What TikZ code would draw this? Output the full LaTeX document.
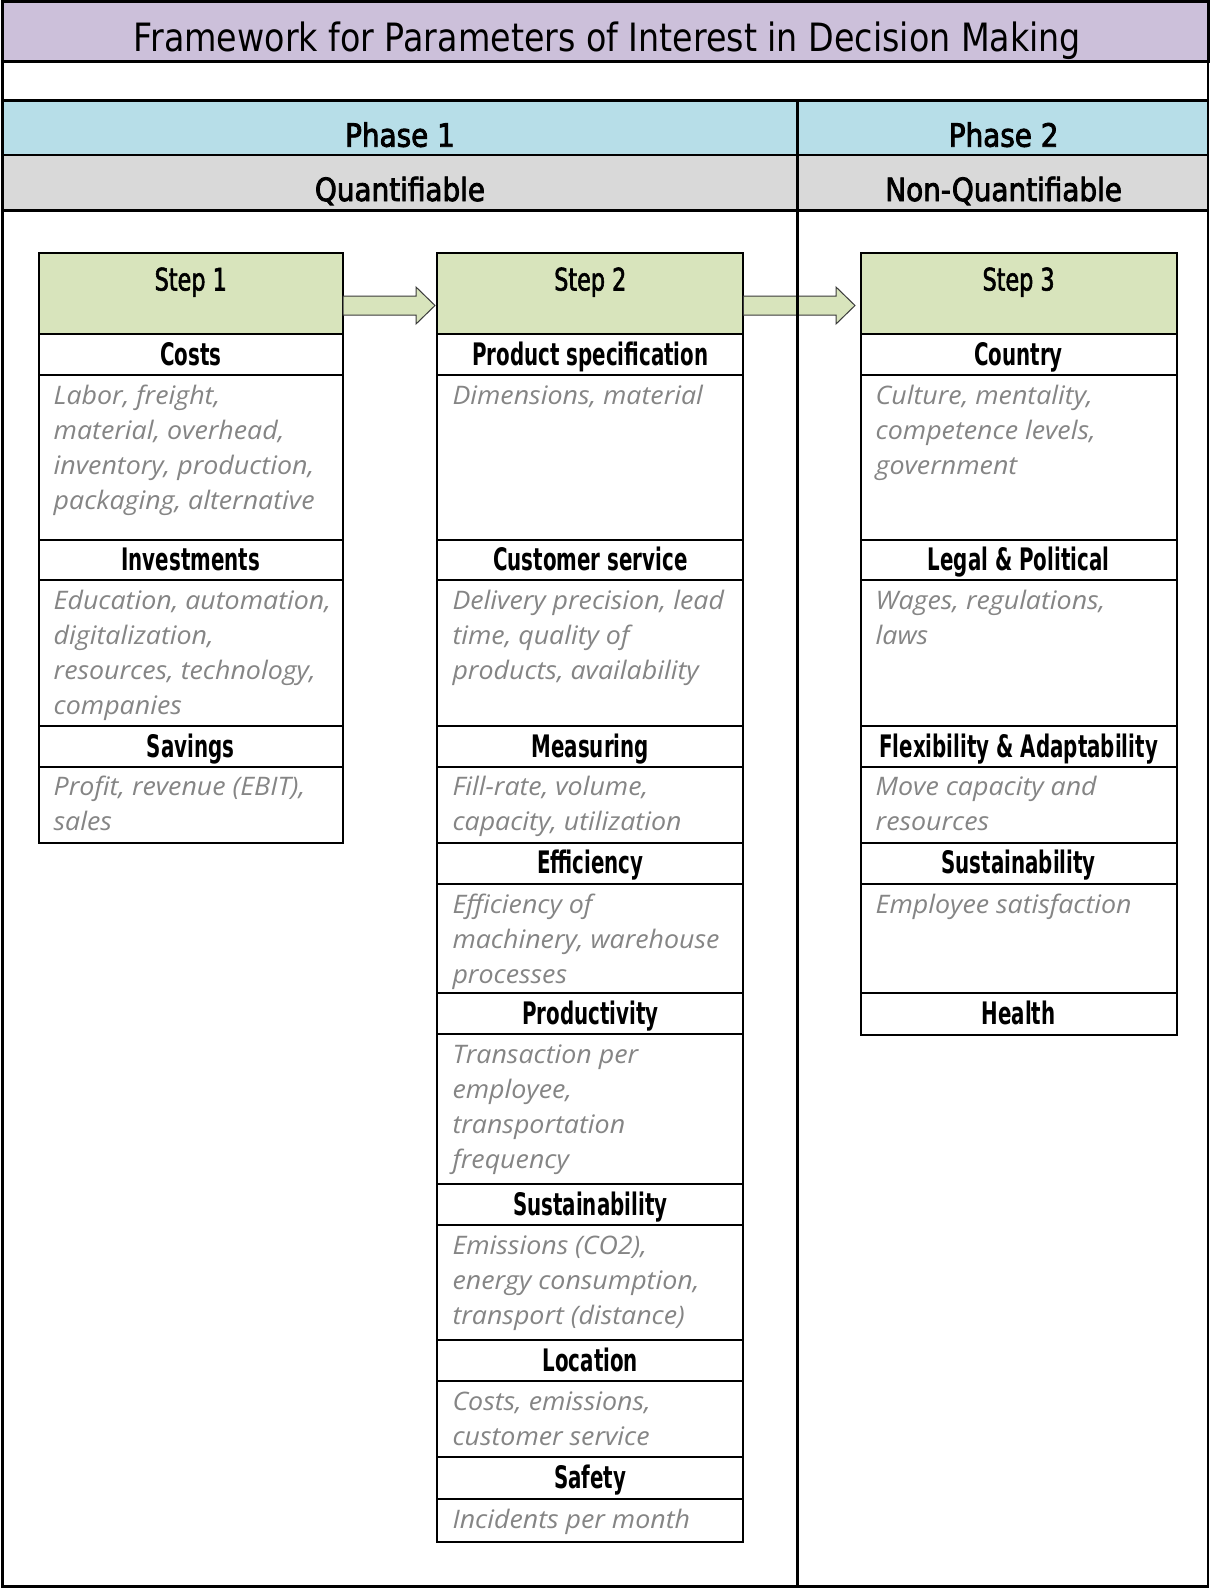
\documentclass[tikz,border=0pt]{standalone}
\usepackage{fontspec}
\usetikzlibrary{calc}

% Fonts: condensed sans for titles and headings, italic humanist sans for descriptions
\newfontfamily\titlefont[FakeStretch=0.854]{DejaVu Sans}
\newfontfamily\phasefont[FakeStretch=0.87,FakeBold=2.6]{DejaVu Sans}
\newfontfamily\stepfont[FakeStretch=0.72,FakeBold=1.8]{DejaVu Sans}
\newfontfamily\headfont[FakeStretch=0.64]{DejaVu Sans}
\newfontfamily\descfont[FakeStretch=1.05]{Open Sans}

\definecolor{titlepurple}{HTML}{CCC0DA}
\definecolor{phaseblue}{HTML}{B7DEE8}
\definecolor{quantgray}{HTML}{D9D9D9}
\definecolor{stepgreen}{HTML}{D8E4BC}
\definecolor{descgray}{HTML}{858585}
\definecolor{arrowline}{HTML}{3A3A3A}

\tikzset{
  framebox/.style={draw=black,line width=2.5pt,inner sep=0pt,outer sep=0pt},
  cellbox/.style={draw=black,line width=2pt,fill=white,inner sep=0pt,outer sep=0pt},
  titletext/.style={inner sep=0pt,font=\titlefont\fontsize{39}{39}\selectfont},
  phasetext/.style={inner sep=0pt,font=\phasefont\fontsize{32}{32}\selectfont},
  steptext/.style={inner sep=0pt,font=\stepfont\fontsize{31}{31}\selectfont},
  headtext/.style={inner sep=0pt,font=\headfont\bfseries\fontsize{31}{31}\selectfont},
  desctext/.style={inner sep=0pt,text=descgray,font=\descfont\itshape\fontsize{25.5}{25.5}\selectfont},
  blockarrow/.style={fill=stepgreen,draw=arrowline,line width=1pt,line join=miter},
}

% A rectangular cell given by its corners (x1,y1) and (x2,y2)
\newcommand\cellbox[6]{%
  \node[cellbox,#6,minimum width={#4-#2},minimum height={#5-#3},anchor=north west] (#1) at (#2,#3) {};}
% A cell with a centred bold heading
\newcommand\headcell[6]{%
  \cellbox{#1}{#2}{#3}{#4}{#5}{}
  \node[headtext,anchor=base] (#1-t) at ($(#1.north)+(0,31)$) {#6};}
% A cell with left-aligned italic lines of description
\newcommand\desccell[6]{%
  \cellbox{#1}{#2}{#3}{#4}{#5}{}
  \foreach \ln [count=\k from 0] in {#6}{%
    \node[desctext,anchor=base west] (#1-l\k) at ($(#1.north west)+(15,{29+35.2*\k})$) {\ln};}}
% The green step header
\newcommand\stepcell[6]{%
  \cellbox{#1}{#2}{#3}{#4}{#5}{fill=stepgreen}
  \node[steptext,anchor=base] (#1-t) at ($(#1.north)+(0,37.5)$) {#6};}
% Block arrow between two step headers; #3 is the gap left before the target box
\newcommand\steparrow[3]{%
  \coordinate (#1-from) at ($(#1.east)+(0,12)$);
  \coordinate (#1-to) at ($(#2.west)+(-#3,12)$);
  \draw[blockarrow] let \p1=(#1-from), \p2=(#1-to) in
    (\x1,\y1+9.5pt) -- (\x2-19pt,\y1+9.5pt) -- (\x2-19pt,\y1+18.5pt) -- (\x2,\y1)
    -- (\x2-19pt,\y1-18.5pt) -- (\x2-19pt,\y1-9.5pt) -- (\x1,\y1-9.5pt) -- cycle;}

\begin{document}
\begin{tikzpicture}[x=1pt,y=-1pt]
\useasboundingbox (0,0) rectangle (1213,1588);

% ---- table frame ----
\node[framebox,fill=titlepurple,line width=3pt,minimum width=1205.3,minimum height=60,anchor=north west] (title) at (2.7,1.7) {};
\node[framebox,fill=white,minimum width=1205.3,minimum height=39,anchor=north west] (gap) at (2.7,61.7) {};
\node[framebox,fill=phaseblue,minimum width=794.6,minimum height=54.3,anchor=north west] (ph1) at (2.7,100.7) {};
\node[framebox,fill=phaseblue,minimum width=410.7,minimum height=54.3,anchor=north west] (ph2) at (797.3,100.7) {};
\node[framebox,fill=quantgray,minimum width=794.6,minimum height=55.7,anchor=north west] (q1) at (2.7,155) {};
\node[framebox,fill=quantgray,minimum width=410.7,minimum height=55.7,anchor=north west] (q2) at (797.3,155) {};
\node[framebox,fill=white,minimum width=794.6,minimum height=1376,anchor=north west] (body1) at (2.7,210.7) {};
\node[framebox,fill=white,minimum width=410.7,minimum height=1376,anchor=north west] (body2) at (797.3,210.7) {};

\node[titletext,anchor=base] (title-t) at ($(title.north)+(2,49.3)$) {Framework for Parameters of Interest in Decision Making};
\node[phasetext,anchor=base] (ph1-t) at ($(ph1.north)+(0,46)$) {Phase 1};
\node[phasetext,anchor=base] (ph2-t) at ($(ph2.north)+(1,46)$) {Phase 2};
\node[phasetext,anchor=base] (q1-t) at ($(q1.north)+(0,46)$) {Quantifiable};
\node[phasetext,anchor=base] (q2-t) at ($(q2.north)+(1,46)$) {Non-Quantifiable};

% ---- Step 1 ----
\stepcell{s1h}{38.5}{253}{343}{334}{Step 1}
\headcell{s1a}{38.5}{334}{343}{375}{Costs}
\desccell{s1ad}{38.5}{375}{343}{539.5}{{Labor, freight,},{material, overhead,},{inventory, production,},{packaging, alternative}}
\headcell{s1b}{38.5}{539.5}{343}{580}{Investments}
\desccell{s1bd}{38.5}{580}{343}{726}{{Education, automation,},{digitalization,},{resources, technology,},{companies}}
\headcell{s1c}{38.5}{726}{343}{766.5}{Savings}
\desccell{s1cd}{38.5}{766.5}{343}{842.5}{{Profit, revenue (EBIT),},{sales}}

% ---- Step 2 ----
\stepcell{s2h}{437.3}{253}{743.3}{334}{Step 2}
\headcell{s2a}{437.3}{334}{743.3}{375}{Product specification}
\desccell{s2ad}{437.3}{375}{743.3}{539.5}{{Dimensions, material}}
\headcell{s2b}{437.3}{539.5}{743.3}{580}{Customer service}
\desccell{s2bd}{437.3}{580}{743.3}{726}{{Delivery precision, lead},{time, quality of},{products, availability}}
\headcell{s2c}{437.3}{726}{743.3}{766.5}{Measuring}
\desccell{s2cd}{437.3}{766.5}{743.3}{842.5}{{Fill-rate, volume,},{capacity, utilization}}
\headcell{s2d}{437.3}{842.5}{743.3}{884}{Efficiency}
\desccell{s2dd}{437.3}{884}{743.3}{993}{{Efficiency of},{machinery, warehouse},{processes}}
\headcell{s2e}{437.3}{993}{743.3}{1034}{Productivity}
\desccell{s2ed}{437.3}{1034}{743.3}{1184}{{Transaction per},{employee,},{transportation},{frequency}}
\headcell{s2f}{437.3}{1184}{743.3}{1225}{Sustainability}
\desccell{s2fd}{437.3}{1225}{743.3}{1340}{{Emissions (CO2),},{energy consumption,},{transport (distance)}}
\headcell{s2g}{437.3}{1340}{743.3}{1381}{Location}
\desccell{s2gd}{437.3}{1381}{743.3}{1457}{{Costs, emissions,},{customer service}}
\headcell{s2k}{437.3}{1457}{743.3}{1499}{Safety}
\desccell{s2kd}{437.3}{1499}{743.3}{1542}{{Incidents per month}}

% ---- Step 3 ----
\stepcell{s3h}{860.5}{253}{1176.7}{334}{Step 3}
\headcell{s3a}{860.5}{334}{1176.7}{375}{Country}
\desccell{s3ad}{860.5}{375}{1176.7}{539.5}{{Culture, mentality,},{competence levels,},{government}}
\headcell{s3b}{860.5}{539.5}{1176.7}{580}{Legal \& Political}
\desccell{s3bd}{860.5}{580}{1176.7}{726}{{Wages, regulations,},{laws}}
\headcell{s3c}{860.5}{726}{1176.7}{766.5}{Flexibility \& Adaptability}
\desccell{s3cd}{860.5}{766.5}{1176.7}{842.5}{{Move capacity and},{resources}}
\headcell{s3d}{860.5}{842.5}{1176.7}{884}{Sustainability}
\desccell{s3dd}{860.5}{884}{1176.7}{993}{{Employee satisfaction}}
\headcell{s3e}{860.5}{993}{1176.7}{1035}{Health}

% ---- arrows between steps ----
\steparrow{s1h}{s2h}{2.3}
\steparrow{s2h}{s3h}{5.5}

% phase divider runs over the second arrow
\draw[line width=2.5pt] (ph1.north east) -- (body1.south east);
\end{tikzpicture}
\end{document}
